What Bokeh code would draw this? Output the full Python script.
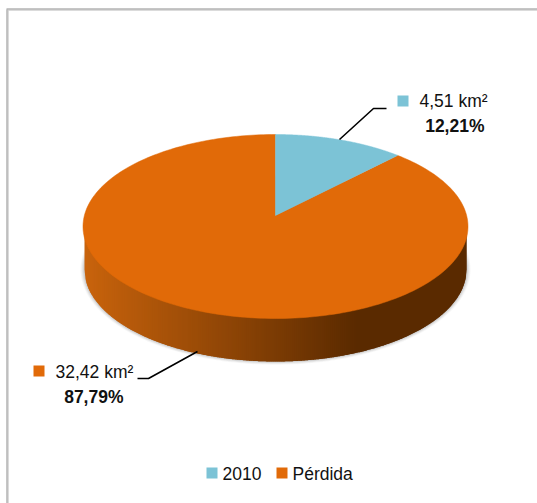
import numpy as np
from bokeh.plotting import figure
from bokeh.embed import file_html
from bokeh.resources import INLINE
from bokeh.core.properties import value

categories = ["2010", "Pérdida"]
areas = ["4,51 km²", "32,42 km²"]
percents = ["12,21%", "87,79%"]
shares = [12.21, 87.79]
colors = ["#7cc3d6", "#e16a08"]

FONT = value("Liberation Sans")
SIZE = "17.5px"
W, H = 537, 503
CX, CY, RX, RY, TILT = 275.0, 226.0, 192.5, 92.0, 0.12
DEPTH, BRX = 43.0, 191.0

p = figure(width=W, height=H, x_range=(0, W), y_range=(H, 0), toolbar_location=None,
           output_backend="svg", min_border=0, outline_line_color=None,
           background_fill_color="white", border_fill_color="white", margin=(0, 0, 0, 0))
p.axis.visible = False
p.grid.visible = False

# chart frame
p.line([6.5, 6.5], [9, H], line_color="#8c8c8c", line_width=1)
p.line([7.5, 7.5], [10, H], line_color="#b8b8b8", line_width=1)
p.line([6, W], [8.5, 8.5], line_color="#8c8c8c", line_width=1)
p.line([7, W], [9.5, 9.5], line_color="#b8b8b8", line_width=1)


def project(theta):
    """Clockwise angle from the top of the disc, to screen, with perspective."""
    u, v = np.sin(theta), -np.cos(theta)
    d = 1 - TILT * v
    return CX + RX * u * np.sqrt(1 - TILT ** 2) / d, CY + RY * (v - TILT) / d


def wedge(start, end):
    t = np.linspace(start, end, 240)
    x, y = project(t)
    return np.r_[CX, x], np.r_[CY - RY * TILT, y]


def rim_bottom(x):
    return CY + DEPTH + RY * np.sqrt(np.clip(1 - ((x - CX) / BRX) ** 2, 0, 1))


# soft shadow under the disc
tt = np.linspace(0, 2 * np.pi, 300)
for grow, alpha in [(4, 0.05), (3, 0.07), (2, 0.10), (1, 0.14)]:
    p.patch(CX + (BRX + grow) * np.sin(tt), CY + DEPTH + (RY + grow * 0.8) * np.cos(tt),
            fill_color="#606060", fill_alpha=alpha, line_color=None)

# rim, shaded in overlapping strips painted left to right; each strip follows the curve
lefts = np.arange(CX - BRX, CX + BRX, 2.0)
rights = np.minimum(lefts + 4.0, CX + BRX)
f = np.clip((lefts + 1 - 85) / (357 - 85), 0, 1)
c0, c1 = np.array([0xc8, 0x63, 0x0c]), np.array([0x5a, 0x2a, 0x00])
rim = [("#%02x%02x%02x" % tuple(int(round(v)) for v in c0 + (c1 - c0) * q)) for q in f]
strip_x, strip_y = [], []
for a, b in zip(lefts, rights):
    sx = np.linspace(a, b, 5)
    strip_x.append(np.r_[a, sx, b].tolist())
    strip_y.append(np.r_[CY, rim_bottom(sx), CY].tolist())
p.patches(strip_x, strip_y, fill_color=rim, fill_alpha=1.0, line_color=None)

# top face, slices built from the shares
angles = np.cumsum([0] + shares) / sum(shares) * 2 * np.pi
for i in [1, 0]:
    x, y = wedge(angles[i], angles[i + 1])
    p.patch(x, y, fill_color=colors[i], line_color=colors[i], line_width=0.5)

# leader lines
p.line([339, 373, 386], [139, 108, 108], line_color="black", line_width=1.6)
p.line([197, 148, 137], [351, 378, 378], line_color="black", line_width=1.6)

# data labels
p.rect([402.5], [100.5], width=11, height=11, fill_color=colors[0], line_color=None)
p.rect([38.5], [370.5], width=11, height=11, fill_color=colors[1], line_color=None)
p.text([419], [100], text=[areas[0]], text_font=FONT, text_font_size=SIZE,
       text_baseline="middle", text_align="left", text_color="#111111")
p.text([484], [125], text=[percents[0]], text_font=FONT, text_font_size=SIZE,
       text_font_style="bold", text_baseline="middle", text_align="right", text_color="#111111")
p.text([55], [371], text=[areas[1]], text_font=FONT, text_font_size=SIZE,
       text_baseline="middle", text_align="left", text_color="#111111")
p.text([123], [396], text=[percents[1]], text_font=FONT, text_font_size=SIZE,
       text_font_style="bold", text_baseline="middle", text_align="right", text_color="#111111")

# legend
p.rect([211.5, 281.5], [472.5, 472.5], width=11, height=11, fill_color=colors, line_color=None)
p.text([222, 292], [473, 473], text=categories, text_font=FONT, text_font_size=SIZE,
       text_baseline="middle", text_align="left", text_color="#111111")

open("out.html", "w").write(file_html(p, INLINE))
